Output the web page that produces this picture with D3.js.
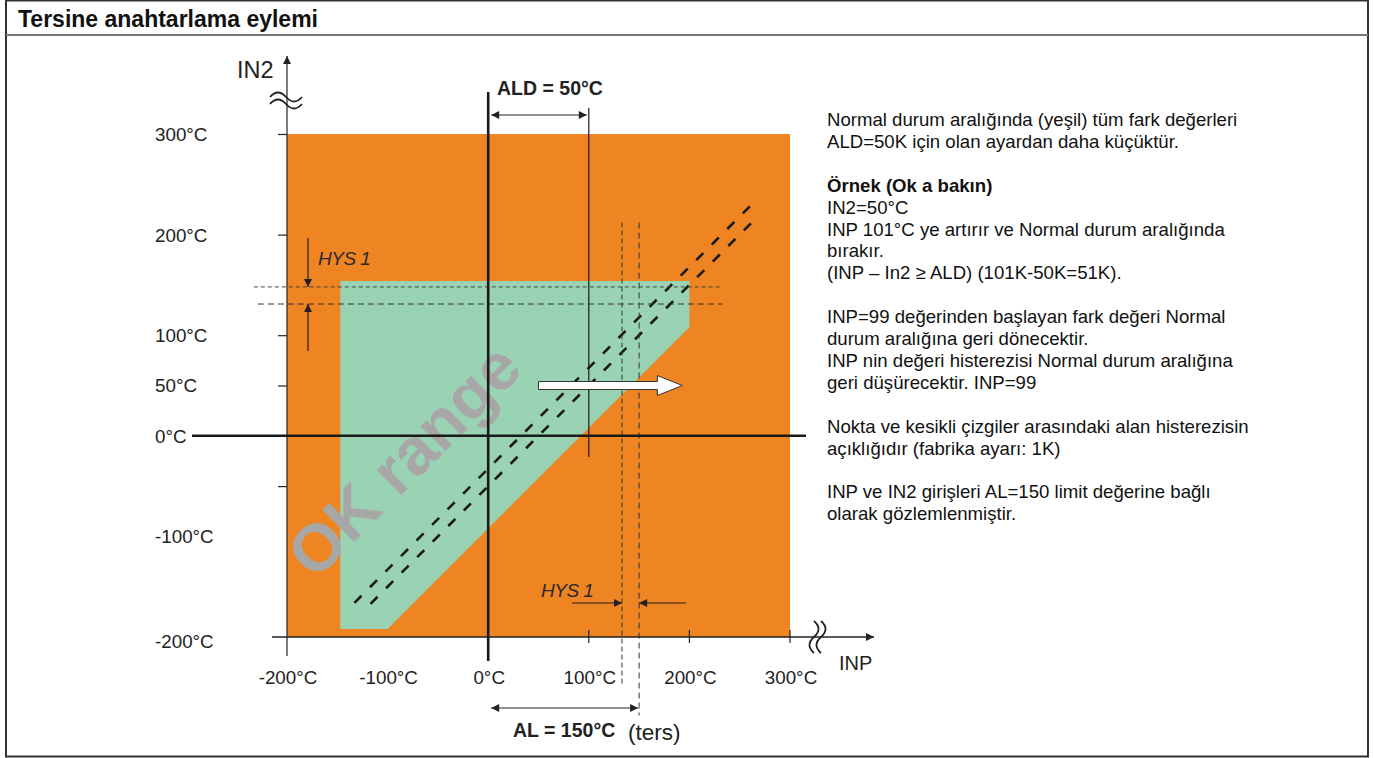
<!DOCTYPE html>
<html>
<head>
<meta charset="utf-8">
<script src="https://cdn.jsdelivr.net/npm/d3@7"></script>
<style>
  body { margin: 0; background: #fff; }
  text { font-family: "Liberation Sans", Arial, sans-serif; }
</style>
</head>
<body>
<div id="chart"></div>
<script>
// data (in °C)
const xLabels = [-200, -100, 0, 100, 200, 300];
const yLabels = [300, 200, 100, 50, 0, -100, -200];
const yTickMarks = [300, 200, 100, 50, -50];
const xTickMarks = [100, 200, 300];
const okRange = [[-147, 154], [200, 154], [200, 108], [-100, -192], [-147, -192]];
const switchOn = [[-133, -166], [266, 234]];   // INP = IN2 + 33
const switchOff = [[-117, -167], [266, 216]];  // INP = IN2 + 50
const hysY = [148, 131];
const hysX = [133, 150];
const ALD = 50;
const AL = 150;
const exampleIN2 = 50;
const exampleINP = [50, 193];
const notes = [
  ["Normal durum aralığında (yeşil) tüm fark değerleri", false],
  ["ALD=50K için olan ayardan daha küçüktür.", false],
  ["", false],
  ["Örnek (Ok a bakın)", true],
  ["IN2=50°C", false],
  ["INP 101°C ye artırır ve Normal durum aralığında", false],
  ["bırakır.", false],
  ["(INP – In2 ≥ ALD) (101K-50K=51K).", false],
  ["", false],
  ["INP=99 değerinden başlayan fark değeri Normal", false],
  ["durum aralığına geri dönecektir.", false],
  ["INP nin değeri histerezisi Normal durum aralığına", false],
  ["geri düşürecektir. INP=99", false],
  ["", false],
  ["Nokta ve kesikli çizgiler arasındaki alan histerezisin", false],
  ["açıklığıdır (fabrika ayarı: 1K)", false],
  ["", false],
  ["INP ve IN2 girişleri AL=150 limit değerine bağlı", false],
  ["olarak gözlemlenmiştir.", false]
];

const width = 1373, height = 758;
const svg = d3.select("#chart").append("svg")
  .attr("width", width).attr("height", height);

const defs = svg.append("defs");
defs.append("marker").attr("id", "ah")
  .attr("viewBox", "0 0 10 10").attr("refX", 10).attr("refY", 5)
  .attr("markerWidth", 11).attr("markerHeight", 8)
  .attr("markerUnits", "userSpaceOnUse").attr("orient", "auto-start-reverse")
  .append("path").attr("d", "M0,0 L10,5 L0,10 Z").attr("fill", "#222");

// frame + title
svg.append("rect").attr("x", 6).attr("y", 0.5).attr("width", 1362).attr("height", 756)
  .attr("fill", "none").attr("stroke", "#333").attr("stroke-width", 2);
svg.append("line").attr("x1", 6).attr("x2", 1368).attr("y1", 35).attr("y2", 35)
  .attr("stroke", "#777").attr("stroke-width", 2);
svg.append("text").attr("x", 18).attr("y", 27).text("Tersine anahtarlama eylemi")
  .attr("font-size", 23).attr("font-weight", "bold").attr("fill", "#111");

// scales
const x = d3.scaleLinear().domain([-200, 300]).range([287, 790]);
const y = d3.scaleLinear().domain([-200, 300]).range([637, 134]);

const g = svg.append("g");

// orange error area and green OK range
g.append("rect").attr("x", x(-200)).attr("y", y(300))
  .attr("width", x(300) - x(-200)).attr("height", y(-200) - y(300))
  .attr("fill", "#ef8423");
g.append("path").datum(okRange)
  .attr("d", d3.line().x(d => x(d[0])).y(d => y(d[1])).curve(d3.curveLinearClosed))
  .attr("fill", "#9ad3b3");

// "OK range" watermark
g.append("text").text("OK range")
  .attr("transform", `translate(${x(-80)},${y(-28)}) rotate(-45)`)
  .attr("text-anchor", "middle").attr("dominant-baseline", "middle")
  .attr("font-size", 66).attr("font-weight", "bold").attr("fill", "#a7a7a7");

// switching lines
const line = d3.line().x(d => x(d[0])).y(d => y(d[1]));
[switchOn, switchOff].forEach(pts => {
  g.append("path").attr("d", line(pts)).attr("fill", "none")
    .attr("stroke", "#1a1a1a").attr("stroke-width", 2.6)
    .attr("stroke-dasharray", "10,12");
});

// hysteresis reference lines
g.append("line").attr("x1", x(-233)).attr("x2", x(233)).attr("y1", y(hysY[0])).attr("y2", y(hysY[0]))
  .attr("stroke", "#444").attr("stroke-width", 1).attr("stroke-dasharray", "4,3");
g.append("line").attr("x1", x(-229)).attr("x2", x(233)).attr("y1", y(hysY[1])).attr("y2", y(hysY[1]))
  .attr("stroke", "#333").attr("stroke-width", 1).attr("stroke-dasharray", "6,4");
g.append("line").attr("x1", x(hysX[0])).attr("x2", x(hysX[0])).attr("y1", y(212)).attr("y2", y(-248))
  .attr("stroke", "#333").attr("stroke-width", 1).attr("stroke-dasharray", "5,3");
g.append("line").attr("x1", x(hysX[1])).attr("x2", x(hysX[1])).attr("y1", y(212)).attr("y2", y(-278))
  .attr("stroke", "#333").attr("stroke-width", 1).attr("stroke-dasharray", "6,4");

// y axis (left, thin)
g.append("line").attr("x1", x(-200)).attr("x2", x(-200)).attr("y1", 56).attr("y2", 656)
  .attr("stroke", "#222").attr("stroke-width", 1.2).attr("marker-start", "url(#ah)");
const yAxis = g.append("g").attr("transform", `translate(${x(-200)},0)`)
  .call(d3.axisLeft(y).tickValues(yTickMarks).tickSize(9).tickFormat(""));
yAxis.select(".domain").remove();
yAxis.selectAll("line").attr("stroke", "#222").attr("stroke-width", 1.2);

// x axis (bottom)
g.append("line").attr("x1", 272).attr("x2", 874).attr("y1", y(-200)).attr("y2", y(-200))
  .attr("stroke", "#222").attr("stroke-width", 1.6).attr("marker-end", "url(#ah)");
g.selectAll(".xtick").data(xTickMarks).enter().append("line")
  .attr("x1", d => x(d)).attr("x2", d => x(d))
  .attr("y1", y(-200) - 7).attr("y2", y(-200) + 6)
  .attr("stroke", "#222").attr("stroke-width", 1.2);

// zero lines (thick)
g.append("line").attr("x1", 192).attr("x2", 806).attr("y1", y(0)).attr("y2", y(0))
  .attr("stroke", "#1a1a1a").attr("stroke-width", 2.6);
g.append("line").attr("x1", x(0)).attr("x2", x(0)).attr("y1", 92).attr("y2", 661)
  .attr("stroke", "#1a1a1a").attr("stroke-width", 2.6);
// ALD line
g.append("line").attr("x1", x(ALD * 2)).attr("x2", x(ALD * 2)).attr("y1", 108).attr("y2", 457)
  .attr("stroke", "#1a1a1a").attr("stroke-width", 1.2);

// axis breaks
const brk = "#222";
[0, 7].forEach(o => {
  g.append("path").attr("d", `M270,${97 + o} q8,-9 16,0 t16,0`)
    .attr("fill", "none").attr("stroke", brk).attr("stroke-width", 1.8);
  g.append("path").attr("d", `M${814 + o},621 q9,8 0,16 t0,16`)
    .attr("fill", "none").attr("stroke", brk).attr("stroke-width", 1.8);
});

// tick labels
g.selectAll(".ylab").data(yLabels).enter().append("text")
  .attr("x", 155).attr("y", d => y(d) + (d === -200 ? 6 : 2))
  .attr("dominant-baseline", "middle").attr("font-size", 18.8).attr("fill", "#222")
  .text(d => d + "°C");
g.selectAll(".xlab").data(xLabels).enter().append("text")
  .attr("x", d => x(d) + 1).attr("y", 684).attr("text-anchor", "middle")
  .attr("font-size", 18.8).attr("fill", "#222")
  .text(d => d + "°C");

g.append("text").attr("x", 237).attr("y", 78).text("IN2").attr("font-size", 23.5).attr("fill", "#222");
g.append("text").attr("x", 839).attr("y", 670).text("INP").attr("font-size", 20).attr("fill", "#222");

// ALD dimension
g.append("line").attr("x1", x(0) + 3).attr("x2", x(ALD * 2) - 2).attr("y1", 115).attr("y2", 115)
  .attr("stroke", "#222").attr("stroke-width", 1.2)
  .attr("marker-start", "url(#ah)").attr("marker-end", "url(#ah)");
g.append("text").attr("x", 497).attr("y", 95).text("ALD = 50°C")
  .attr("font-size", 19.5).attr("font-weight", "bold").attr("fill", "#222");

// AL dimension
g.append("line").attr("x1", x(0) + 3).attr("x2", x(AL) - 1).attr("y1", 708).attr("y2", 708)
  .attr("stroke", "#222").attr("stroke-width", 1.2)
  .attr("marker-start", "url(#ah)").attr("marker-end", "url(#ah)");
g.append("text").attr("x", 513).attr("y", 737).text("AL = 150°C")
  .attr("font-size", 19.5).attr("font-weight", "bold").attr("fill", "#222");
g.append("text").attr("x", 628).attr("y", 740).text("(ters)")
  .attr("font-size", 22.5).attr("fill", "#222");

// HYS 1 (vertical)
g.append("line").attr("x1", 308).attr("x2", 308).attr("y1", 238).attr("y2", y(hysY[0]))
  .attr("stroke", "#222").attr("stroke-width", 1.2).attr("marker-end", "url(#ah)");
g.append("line").attr("x1", 308).attr("x2", 308).attr("y1", 351).attr("y2", y(hysY[1]))
  .attr("stroke", "#222").attr("stroke-width", 1.2).attr("marker-end", "url(#ah)");
g.append("text").attr("x", 318).attr("y", 265).text("HYS 1")
  .attr("font-family", "DejaVu Sans Mono").attr("font-style", "italic")
  .attr("font-size", 19).attr("letter-spacing", -0.5).attr("fill", "#2a2a2a");

// HYS 1 (horizontal)
g.append("line").attr("x1", 572).attr("x2", x(hysX[0])).attr("y1", 603).attr("y2", 603)
  .attr("stroke", "#222").attr("stroke-width", 1.2).attr("marker-end", "url(#ah)");
g.append("line").attr("x1", 686).attr("x2", x(hysX[1])).attr("y1", 603).attr("y2", 603)
  .attr("stroke", "#222").attr("stroke-width", 1.2).attr("marker-end", "url(#ah)");
g.append("text").attr("x", 541).attr("y", 597).text("HYS 1")
  .attr("font-family", "DejaVu Sans Mono").attr("font-style", "italic")
  .attr("font-size", 19).attr("letter-spacing", -0.5).attr("fill", "#2a2a2a");

// example white arrow
const ax0 = x(exampleINP[0]), ax1 = x(exampleINP[1]), ay = y(exampleIN2);
g.append("path")
  .attr("d", `M${ax0},${ay - 4} L${ax1 - 25},${ay - 4} L${ax1 - 25},${ay - 10} L${ax1},${ay} L${ax1 - 25},${ay + 10} L${ax1 - 25},${ay + 4} L${ax0},${ay + 4} Z`)
  .attr("fill", "#fff").attr("stroke", "#333").attr("stroke-width", 1);

// notes on the right
const notesG = svg.append("g").attr("transform", "translate(827,126)");
notesG.selectAll("text").data(notes).enter().append("text")
  .attr("x", 0).attr("y", (d, i) => i * 21.9)
  .attr("font-size", 18.6).attr("fill", "#111")
  .attr("font-weight", d => d[1] ? "bold" : "normal")
  .text(d => d[0]);
</script>
</body>
</html>
